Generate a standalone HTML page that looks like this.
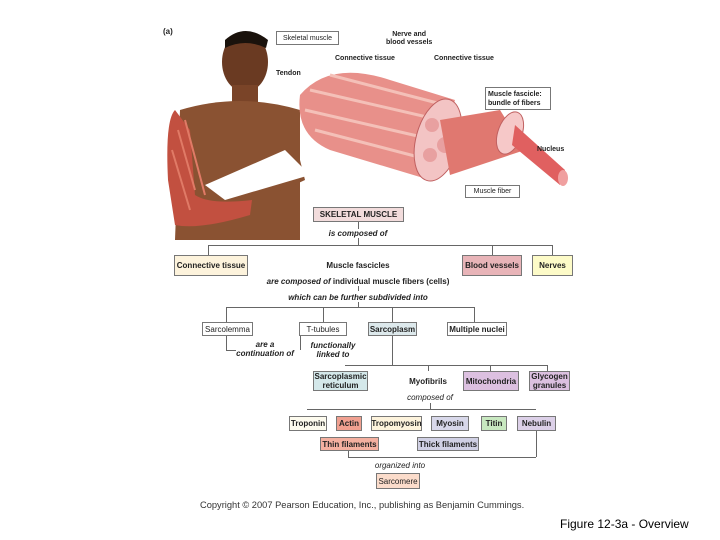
<!DOCTYPE html>
<html><head><style>
body{margin:0;width:720px;height:540px;background:#fff;position:relative;overflow:hidden;font-family:"Liberation Sans",sans-serif}
.b{position:absolute;border:1px solid #777;font-size:8px;font-weight:bold;color:#222;display:flex;align-items:center;justify-content:center;text-align:center;line-height:9px;box-sizing:border-box}
.t{position:absolute;font-size:8px;color:#222;white-space:nowrap;transform:translateX(-50%)}
.i{font-style:italic;font-weight:bold}
.l{position:absolute;background:#666}
.lb{position:absolute;font-size:7px;color:#222;font-weight:bold;line-height:8px}
</style></head><body>
<svg width="720" height="540" style="position:absolute;left:0;top:0">
<ellipse cx="245" cy="62" rx="23" ry="30" fill="#6a3a22"/>
<path d="M225 40 Q245 22 268 40 L266 48 Q245 38 225 48Z" fill="#1a120c"/>
<rect x="232" y="85" width="26" height="20" fill="#7a4428"/>
<path d="M180 110 Q240 92 300 110 L300 240 L175 240Z" fill="#8a5232"/>
<path d="M175 110 Q165 120 168 180 L175 225 Q200 230 250 215 L252 200 Q210 205 195 195 L190 130Z" fill="#c25040"/>
<path d="M178 130 L195 190 M185 120 L205 195 M172 150 L190 210" stroke="#e07a66" stroke-width="2"/>
<path d="M240 180 Q280 170 300 160 L305 180 Q275 195 245 200Z" fill="#8a5232"/>
<path d="M205 185 L285 150 L310 175 L225 200Z" fill="#fff"/>
<path d="M300 95 Q330 60 390 80 L455 100 L430 180 L330 150 Q295 135 300 95Z" fill="#e8908a"/>
<path d="M310 90 L440 120 M305 110 L435 140 M315 130 L430 160 M330 75 L445 105" stroke="#f4c0b8" stroke-width="3"/>
<ellipse cx="438" cy="140" rx="22" ry="42" transform="rotate(15 438 140)" fill="#f3c4c4" stroke="#c06060"/>
<circle cx="432" cy="125" r="7" fill="#e8a0a0"/><circle cx="445" cy="145" r="8" fill="#e8a0a0"/><circle cx="430" cy="155" r="7" fill="#e8a0a0"/>
<path d="M440 120 L500 110 L525 150 L450 175Z" fill="#e07870"/>
<ellipse cx="510" cy="133" rx="12" ry="22" transform="rotate(20 510 133)" fill="#f6c8c8" stroke="#c06060"/>
<path d="M515 125 L565 170 L560 185 L512 145Z" fill="#e06060"/>
<ellipse cx="563" cy="178" rx="5" ry="8" fill="#f0a0a0"/>
</svg>
<div class="lb" style="left:163px;top:28px;font-size:8px">(a)</div>
<div class="b" style="left:276px;top:31px;width:63px;height:14px;font-weight:normal;font-size:7px">Skeletal muscle</div>
<div class="lb" style="left:386px;top:31px;text-align:center">Nerve and<br>blood vessels</div>
<div class="lb" style="left:335px;top:55px">Connective tissue</div>
<div class="lb" style="left:434px;top:55px">Connective tissue</div>
<div class="lb" style="left:276px;top:70px">Tendon</div>
<div class="b" style="left:485px;top:87px;width:66px;height:23px;font-size:7px;justify-content:flex-start;text-align:left;padding-left:2px">Muscle fascicle:<br>bundle of fibers</div>
<div class="lb" style="left:537px;top:146px">Nucleus</div>
<div class="b" style="left:465px;top:185px;width:55px;height:13px;font-size:7px;font-weight:normal">Muscle fiber</div>

<div class="b" style="left:313px;top:207px;width:91px;height:15px;background:#f2dcdc">SKELETAL MUSCLE</div>
<div class="l" style="left:358px;top:222px;width:1px;height:23px"></div>
<div class="t i" style="left:358px;top:229px;background:#fff">is composed of</div>
<div class="l" style="left:208px;top:245px;width:344px;height:1px"></div>
<div class="l" style="left:208px;top:245px;width:1px;height:10px"></div>
<div class="l" style="left:492px;top:245px;width:1px;height:10px"></div>
<div class="l" style="left:552px;top:245px;width:1px;height:10px"></div>
<div class="b" style="left:174px;top:255px;width:74px;height:21px;background:#fdf3dc">Connective tissue</div>
<div class="t" style="left:358px;top:261px;font-weight:bold">Muscle fascicles</div>
<div class="b" style="left:462px;top:255px;width:60px;height:21px;background:#e8b4b8">Blood vessels</div>
<div class="b" style="left:532px;top:255px;width:41px;height:21px;background:#fdfbc8">Nerves</div>
<div class="t" style="left:358px;top:277px"><i class="i">are composed of</i> <b>individual muscle fibers (cells)</b></div>
<div class="t i" style="left:358px;top:293px">which can be further subdivided into</div>
<div class="l" style="left:358px;top:286px;width:1px;height:5px"></div>
<div class="l" style="left:358px;top:302px;width:1px;height:5px"></div>
<div class="l" style="left:226px;top:307px;width:248px;height:1px"></div>
<div class="l" style="left:226px;top:307px;width:1px;height:15px"></div>
<div class="l" style="left:323px;top:307px;width:1px;height:15px"></div>
<div class="l" style="left:392px;top:307px;width:1px;height:15px"></div>
<div class="l" style="left:474px;top:307px;width:1px;height:15px"></div>
<div class="b" style="left:202px;top:322px;width:51px;height:14px;font-weight:normal">Sarcolemma</div>
<div class="b" style="left:299px;top:322px;width:48px;height:14px;font-weight:normal">T-tubules</div>
<div class="b" style="left:368px;top:322px;width:49px;height:14px;background:#dde9ec">Sarcoplasm</div>
<div class="b" style="left:447px;top:322px;width:60px;height:14px">Multiple nuclei</div>
<div class="t i" style="left:265px;top:340px;text-align:center;line-height:9px">are a<br>continuation of</div>
<div class="t i" style="left:333px;top:341px;text-align:center;line-height:9px">functionally<br>linked to</div>
<div class="l" style="left:226px;top:336px;width:1px;height:14px"></div>
<div class="l" style="left:226px;top:350px;width:10px;height:1px"></div>
<div class="l" style="left:300px;top:336px;width:1px;height:14px"></div>
<div class="l" style="left:392px;top:336px;width:1px;height:29px"></div>
<div class="l" style="left:345px;top:365px;width:202px;height:1px"></div>
<div class="l" style="left:428px;top:365px;width:1px;height:6px"></div>
<div class="l" style="left:490px;top:365px;width:1px;height:6px"></div>
<div class="l" style="left:547px;top:365px;width:1px;height:6px"></div>
<div class="b" style="left:313px;top:371px;width:55px;height:20px;background:#d4e8ea">Sarcoplasmic<br>reticulum</div>
<div class="t" style="left:428px;top:377px;font-weight:bold">Myofibrils</div>
<div class="b" style="left:463px;top:371px;width:56px;height:20px;background:#dcc0e0">Mitochondria</div>
<div class="b" style="left:529px;top:371px;width:41px;height:20px;background:#dcc0e0">Glycogen<br>granules</div>
<div class="t i" style="left:430px;top:393px;font-weight:normal">composed of</div>
<div class="l" style="left:307px;top:409px;width:229px;height:1px"></div>
<div class="l" style="left:430px;top:403px;width:1px;height:6px"></div>
<div class="b" style="left:289px;top:416px;width:38px;height:15px;background:#fdfbee">Troponin</div>
<div class="b" style="left:336px;top:416px;width:26px;height:15px;background:#f0a090">Actin</div>
<div class="b" style="left:371px;top:416px;width:51px;height:15px;background:#fdf3dc">Tropomyosin</div>
<div class="b" style="left:431px;top:416px;width:38px;height:15px;background:#d8d8ea">Myosin</div>
<div class="b" style="left:481px;top:416px;width:26px;height:15px;background:#c8e8c0">Titin</div>
<div class="b" style="left:517px;top:416px;width:39px;height:15px;background:#dcd0e8">Nebulin</div>
<div class="b" style="left:320px;top:437px;width:59px;height:14px;background:#f4b0a0">Thin filaments</div>
<div class="b" style="left:417px;top:437px;width:62px;height:14px;background:#d0d0e4">Thick filaments</div>
<div class="l" style="left:348px;top:457px;width:188px;height:1px"></div>
<div class="l" style="left:348px;top:451px;width:1px;height:6px"></div>
<div class="l" style="left:536px;top:431px;width:1px;height:26px"></div>
<div class="t i" style="left:400px;top:461px;font-weight:normal">organized into</div>
<div class="b" style="left:376px;top:473px;width:44px;height:16px;background:#fbdccb;font-weight:normal">Sarcomere</div>
<div style="position:absolute;left:200px;top:500px;font-size:9.3px;color:#333">Copyright © 2007 Pearson Education, Inc., publishing as Benjamin Cummings.</div>
<div style="position:absolute;left:560px;top:517px;font-size:12px;color:#000">Figure 12-3a - Overview</div>
</body></html>
